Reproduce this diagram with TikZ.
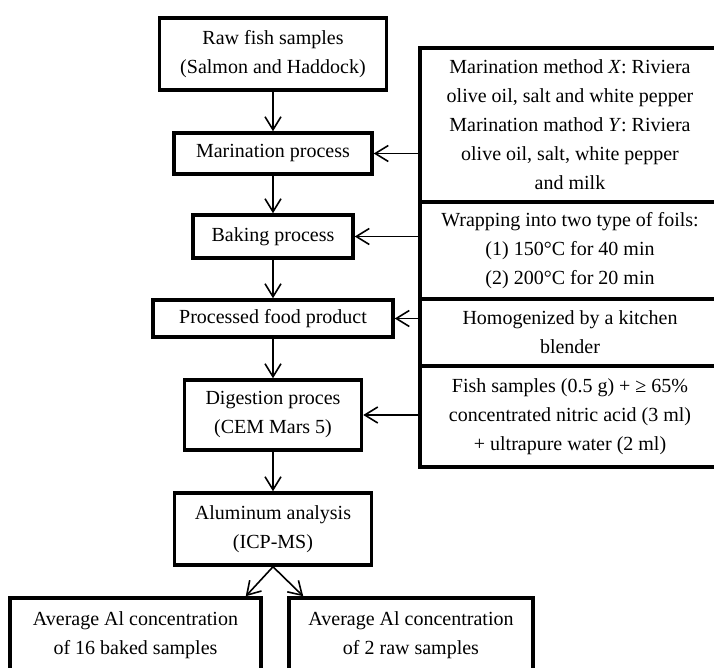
\documentclass[tikz,border=0pt]{standalone}
\usepackage{fontspec}
\setmainfont{Liberation Serif}
\usetikzlibrary{arrows.meta,calc}

\begin{document}
\begin{tikzpicture}[x=1pt,y=-1pt,
    box/.style={draw,line width=3.5pt,align=center,inner sep=0pt,font=\fontsize{20}{29}\selectfont},
    sidebox/.style={box,minimum width=300pt},
    flow/.style={line width=1.6pt,-{Straight Barb[length=13pt,width=16pt]}}]
    \useasboundingbox (0,0) rectangle (714,668);
    % main column
    \node[box,minimum width=227pt,minimum height=72pt](raw)at(273,54){Raw fish samples\\(Salmon and Haddock)};
    \node[box,minimum width=198pt,minimum height=41pt](marin)at(273,153.5){Marination process};
    \node[box,minimum width=160pt,minimum height=43pt](bake)at(273,236.5){Baking process};
    \node[box,minimum width=240pt,minimum height=37pt](proc)at(273,318.5){Processed food product};
    \node[box,minimum width=177pt,minimum height=70pt](digest)at(273,415){Digestion proces\\(CEM Mars 5)};
    \node[box,minimum width=197pt,minimum height=72pt](alum)at(273,529){Aluminum analysis\\(ICP-MS)};
    \node[box,minimum width=251pt,minimum height=74pt](avgbaked)at(135.5,635){Average Al concentration\\of 16 baked samples};
    \node[box,minimum width=244pt,minimum height=74pt](avgraw)at(411,635){Average Al concentration\\of 2 raw samples};
    % side column
    \node[sidebox,minimum height=154pt](marX)at(570,125){Marination method \textit{X}: Riviera\\olive oil, salt and white pepper\\Marination mathod \textit{Y}: Riviera\\olive oil, salt, white pepper\\and milk};
    \node[sidebox,minimum height=97pt](wrap)at(570,250.5){Wrapping into two type of foils:\\(1) 150°C for 40 min\\(2) 200°C for 20 min};
    \node[sidebox,minimum height=67pt](homog)at(570,332.5){Homogenized by a kitchen\\blender};
    \node[sidebox,minimum height=101pt](acid)at(570,416.5){Fish samples (0.5 g) + ≥ 65\%\\concentrated nitric acid (3 ml)\\+ ultrapure water (2 ml)};

    \draw[flow] (raw) to (marin);
    \draw[flow] (marin) to (bake);
    \draw[flow] (bake) to (proc);
    \draw[flow] (proc) to (digest);
    \draw[flow] (digest) to (alum);
    \draw[flow] (alum.south) to ($(avgbaked.north east)+(-17,0)$);
    \draw[flow] (alum.south) to ($(avgraw.north west)+(16,0)$);

    \draw[flow] (marX.west |- marin) to (marin.east);
    \draw[flow] (wrap.west |- bake) to (bake.east);
    \draw[flow] (homog.west |- proc) to (proc.east);
    \draw[flow] (acid.west |- digest) to (digest.east);
  \end{tikzpicture}
\end{document}
